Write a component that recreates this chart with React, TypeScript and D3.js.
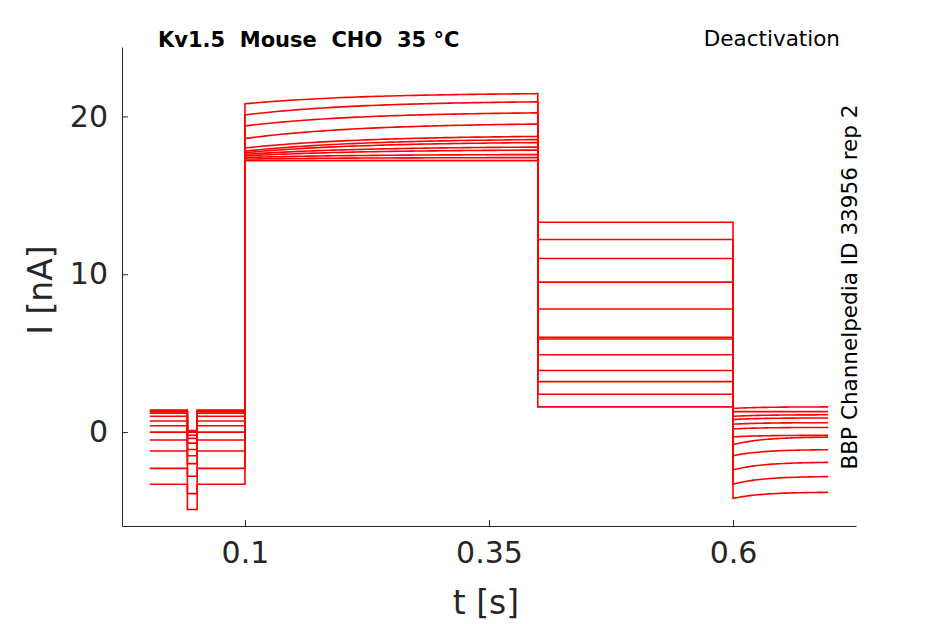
import { useEffect, useRef } from 'react';
import * as d3 from 'd3';

// current levels per sweep (nA)
const preLevels = [1.4, 1.35, 1.3, 1.2, 1.0, 0.7, 0.4, 0.0, -0.5, -1.2, -2.3, -3.3];
const dipDepth = [1.3, 1.3, 1.3, 1.4, 1.4, 1.4, 1.5, 1.5, 1.5, 1.6, 1.6, 1.6];
const stepStart = [20.8, 20.1, 19.4, 18.6, 18.0, 17.8, 17.7, 17.6, 17.5, 17.4, 17.3, 17.2];
const stepEnd = [21.5, 21.0, 20.3, 19.6, 18.8, 18.6, 18.4, 18.1, 17.9, 17.6, 17.4, 17.2];
const tailLevels = [13.3, 12.2, 11.0, 9.5, 7.8, 6.0, 5.9, 4.9, 3.9, 3.2, 2.4, 1.6];
const postStart = [-4.2, -3.3, -2.4, -1.5, -0.8, -0.3, 0.2, 0.5, 0.8, 1.0, 1.3, 1.5];
const postEnd = [-3.8, -2.8, -1.9, -1.1, -0.3, -0.2, 0.3, 0.6, 0.9, 1.1, 1.3, 1.6];
const xTicks = [0.1, 0.35, 0.6];
const yTicks = [0, 10, 20];

export default function App() {
  const ref = useRef<SVGSVGElement>(null);
  useEffect(() => {
    const svg = d3.select(ref.current);
    svg.selectAll('*').remove();
    const x = d3.scaleLinear().domain([-0.026, 0.726]).range([122, 856]);
    const y = d3.scaleLinear().domain([-5.95, 24.4]).range([526, 47]);
    const font = 'DejaVu Sans, sans-serif';

    const line = d3.line<[number, number]>().x(d => x(d[0])).y(d => y(d[1]));
    preLevels.forEach((p, i) => {
      const pts: [number, number][] = [
        [0.0025, p], [0.041, p], [0.041, p - dipDepth[i]], [0.051, p - dipDepth[i]],
        [0.051, p], [0.1, p],
      ];
      for (let k = 0; k <= 60; k++) {
        const t = k * 0.005;
        pts.push([0.1 + t, stepEnd[i] + (stepStart[i] - stepEnd[i]) * Math.exp(-t / 0.12)]);
      }
      pts.push([0.4, tailLevels[i]], [0.6, tailLevels[i]]);
      for (let k = 0; k <= 39; k++) {
        const t = k * 0.0025;
        pts.push([0.6 + t, postEnd[i] + (postStart[i] - postEnd[i]) * Math.exp(-t / 0.03)]);
      }
      svg.append('path').attr('d', line(pts)).attr('fill', 'none')
        .attr('stroke', '#ff0000').attr('stroke-width', 1.6);
    });

    const xa = svg.append('g').attr('transform', 'translate(0,526)')
      .call(d3.axisBottom(x).tickValues(xTicks).tickFormat(d => String(d)).tickSizeInner(-6).tickSizeOuter(0).tickPadding(16));
    const ya = svg.append('g').attr('transform', 'translate(122,0)')
      .call(d3.axisLeft(y).tickValues(yTicks).tickSizeInner(-6).tickSizeOuter(0).tickPadding(14));
    [xa, ya].forEach(a => {
      a.selectAll('path,line').attr('stroke', '#262626');
      a.selectAll('text').attr('font-size', 30).attr('font-family', font).attr('fill', '#262626');
    });

    svg.append('text').attr('x', 486).attr('y', 614).attr('text-anchor', 'middle')
      .attr('font-size', 33).attr('font-family', font).attr('fill', '#262626').text('t [s]');
    svg.append('text').attr('transform', 'translate(52,290) rotate(-90)').attr('text-anchor', 'middle')
      .attr('font-size', 33).attr('font-family', font).attr('fill', '#262626').text('I [nA]');
    svg.append('text').attr('x', 158).attr('y', 47).attr('font-size', 21).attr('font-weight', 'bold')
      .attr('font-family', font).style('white-space', 'pre')
      .text('Kv1.5  Mouse  CHO  35 °C');
    svg.append('text').attr('x', 840).attr('y', 46).attr('text-anchor', 'end').attr('font-size', 21.5)
      .attr('font-family', font).text('Deactivation');
    svg.append('text').attr('transform', 'translate(857,287) rotate(-90)').attr('text-anchor', 'middle')
      .attr('font-size', 21.5).attr('font-family', font).text('BBP Channelpedia ID 33956 rep 2');
  }, []);
  return <svg ref={ref} width={945} height={624} style={{ position: 'absolute', left: 0, top: 0, background: '#fff' }} />;
}
